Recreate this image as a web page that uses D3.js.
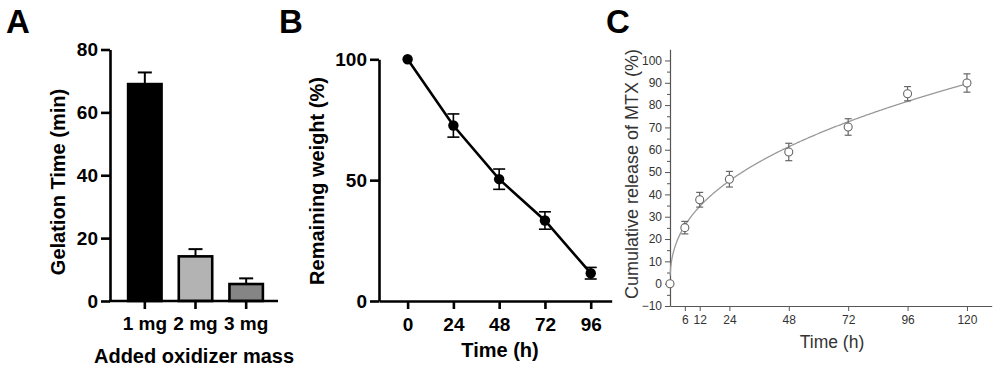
<!DOCTYPE html>
<html>
<head>
<meta charset="utf-8">
<script src="https://cdn.jsdelivr.net/npm/d3@7"></script>
<style>
  html, body { margin: 0; padding: 0; background: #fff; }
  svg { display: block; }
  .bold text { font-family: "Liberation Sans", Arial, sans-serif; font-weight: bold; }
</style>
</head>
<body>
<div id="area"></div>
<script>
// ---- data ----
// A: gelation time
const massLabels = ['1 mg', '2 mg', '3 mg'];
const gelTime = [69, 14.2, 5.4];
const gelErr = [3.7, 2.3, 1.8];
const barColors = ['#000000', '#b3b3b3', '#858585'];
const gelTicks = [0, 20, 40, 60, 80];

// B: degradation
const degTime = [0, 24, 48, 72, 96];
const degWeight = [100, 72.6, 50.4, 33.3, 11.5];
const degErr = [0, 4.8, 4.2, 3.6, 2.4];
const degTicksX = [0, 24, 48, 72, 96];
const degTicksY = [0, 50, 100];

// C: MTX release
const relTime = [0, 6, 12, 24, 48, 72, 96, 120];
const relValue = [0, 25.1, 37.6, 46.8, 59, 70.2, 85.1, 89.9];
const relErr = [0, 2.8, 3.3, 3.5, 3.9, 3.7, 3.2, 4.1];
const relTicksX = [6, 12, 24, 48, 72, 96, 120];
const relTicksY = [-10, 0, 10, 20, 30, 40, 50, 60, 70, 80, 90, 100];
// fitted release curve (Korsmeyer-Peppas, Q = k * t^n)
const fitK = 12.4, fitN = 0.413;

const width = 1000, height = 372;
const tickFont = 19, titleFont = 20;
const svg = d3.select('#area').append('svg')
    .attr('width', width).attr('height', height);

// panel letters
svg.append('g').attr('class', 'bold')
  .selectAll('text').data([['A', 6], ['B', 279], ['C', 606]])
  .join('text')
    .attr('x', d => d[1]).attr('y', 33)
    .attr('font-size', 33)
    .text(d => d[0]);

// ---------------- A ----------------
(function () {
    const g = svg.append('g').attr('class', 'bold');
    const x = d3.scaleBand().domain(massLabels)
        .range([119.5, 271.5]).paddingInner(0.34).paddingOuter(0.17);
    const y = d3.scaleLinear().domain([0, 80]).range([301, 49.5]);
    const axisX0 = 110, axisX1 = 278;

    // bars
    g.selectAll('rect.bar').data(gelTime).join('rect')
        .attr('x', (d, i) => x(massLabels[i]))
        .attr('y', d => y(d))
        .attr('width', x.bandwidth())
        .attr('height', d => y(0) - y(d))
        .attr('fill', (d, i) => barColors[i])
        .attr('stroke', '#000').attr('stroke-width', 2.6);

    // upper error bars
    const eb = g.selectAll('g.err').data(gelTime).join('g')
        .attr('transform', (d, i) => `translate(${x(massLabels[i]) + x.bandwidth() / 2},0)`);
    eb.append('line')
        .attr('y1', d => y(d)).attr('y2', (d, i) => y(d + gelErr[i]))
        .attr('stroke', '#000').attr('stroke-width', 2);
    eb.append('line')
        .attr('x1', -7).attr('x2', 7)
        .attr('y1', (d, i) => y(d + gelErr[i])).attr('y2', (d, i) => y(d + gelErr[i]))
        .attr('stroke', '#000').attr('stroke-width', 2);

    // y axis
    const ya = g.append('g').attr('transform', `translate(${axisX0},0)`)
        .call(d3.axisLeft(y).tickValues(gelTicks).tickSize(9).tickSizeOuter(0).tickPadding(3));
    ya.select('.domain').attr('stroke-width', 2.6);
    ya.selectAll('.tick line').attr('stroke-width', 2.6);
    ya.selectAll('text').attr('font-size', tickFont).attr('fill', '#000');

    // x axis
    const xa = g.append('g').attr('transform', `translate(0,${y(0)})`)
        .call(d3.axisBottom(x).tickSize(8).tickSizeOuter(0).tickPadding(8));
    xa.select('.domain').remove();
    xa.selectAll('.tick line').attr('stroke-width', 2.6);
    xa.selectAll('text').attr('font-size', tickFont).attr('fill', '#000');
    g.append('line').attr('x1', axisX0 - 1).attr('x2', axisX1)
        .attr('y1', y(0)).attr('y2', y(0))
        .attr('stroke', '#000').attr('stroke-width', 2.6);

    g.append('text').attr('x', 194).attr('y', 363).attr('text-anchor', 'middle')
        .attr('font-size', titleFont).text('Added oxidizer mass');
    g.append('text').attr('transform', 'translate(65,182) rotate(-90)')
        .attr('text-anchor', 'middle').attr('font-size', titleFont).text('Gelation Time (min)');
})();

// ---------------- B ----------------
(function () {
    const g = svg.append('g').attr('class', 'bold');
    const x = d3.scaleLinear().domain([-15, 107]).range([379, 611.7]);
    const y = d3.scaleLinear().domain([0, 100]).range([301, 59.3]);

    const ya = g.append('g').attr('transform', `translate(${x(-15)},0)`)
        .call(d3.axisLeft(y).tickValues(degTicksY).tickSize(9).tickSizeOuter(0).tickPadding(3));
    ya.select('.domain').attr('stroke-width', 2.6);
    ya.selectAll('.tick line').attr('stroke-width', 2.6);
    ya.selectAll('text').attr('font-size', tickFont).attr('fill', '#000');

    const xa = g.append('g').attr('transform', `translate(0,${y(0)})`)
        .call(d3.axisBottom(x).tickValues(degTicksX).tickSize(8).tickSizeOuter(0).tickPadding(9));
    xa.select('.domain').attr('stroke-width', 2.6);
    xa.selectAll('.tick line').attr('stroke-width', 2.6);
    xa.selectAll('text').attr('font-size', tickFont).attr('fill', '#000');

    const pts = degTime.map((t, i) => ({ t, v: degWeight[i], e: degErr[i] }));

    const eb = g.selectAll('g.err').data(pts.filter(d => d.e > 0)).join('g')
        .attr('transform', d => `translate(${x(d.t)},0)`)
        .attr('stroke', '#000').attr('stroke-width', 1.6);
    eb.append('line').attr('y1', d => y(d.v - d.e)).attr('y2', d => y(d.v + d.e));
    eb.append('line').attr('x1', -6).attr('x2', 6).attr('y1', d => y(d.v + d.e)).attr('y2', d => y(d.v + d.e));
    eb.append('line').attr('x1', -6).attr('x2', 6).attr('y1', d => y(d.v - d.e)).attr('y2', d => y(d.v - d.e));

    g.append('path').datum(pts)
        .attr('d', d3.line().x(d => x(d.t)).y(d => y(d.v)))
        .attr('fill', 'none').attr('stroke', '#000').attr('stroke-width', 2.6);

    g.selectAll('circle').data(pts).join('circle')
        .attr('cx', d => x(d.t)).attr('cy', d => y(d.v)).attr('r', 5.2)
        .attr('fill', '#000');

    g.append('text').attr('x', 500).attr('y', 357).attr('text-anchor', 'middle')
        .attr('font-size', titleFont).text('Time (h)');
    g.append('text').attr('transform', 'translate(324,181) rotate(-90)')
        .attr('text-anchor', 'middle').attr('font-size', titleFont).text('Remaining weight (%)');
})();

// ---------------- C ----------------
(function () {
    const grey = '#555';
    const g = svg.append('g')
        .style('font-family', '"Liberation Sans", Arial, sans-serif');
    const x = d3.scaleLinear().domain([0, 130]).range([670, 991.7]);
    const y = d3.scaleLinear().domain([-10, 105]).range([306, 49.3]);

    // minor ticks
    g.append('g').attr('transform', `translate(${x(0)},0)`)
        .call(d3.axisLeft(y).tickValues(d3.range(-5, 105, 10)).tickSize(3).tickFormat(''))
        .call(a => a.select('.domain').remove())
        .selectAll('line').attr('stroke', grey);

    const ya = g.append('g').attr('transform', `translate(${x(0)},0)`)
        .call(d3.axisLeft(y).tickValues(relTicksY).tickSize(5).tickSizeOuter(0).tickPadding(3));
    ya.select('.domain').attr('stroke', grey).attr('stroke-width', 1.2);
    ya.selectAll('.tick line').attr('stroke', grey);
    ya.selectAll('text').attr('font-size', 12).attr('fill', '#333');

    const xa = g.append('g').attr('transform', `translate(0,${y(-10)})`)
        .call(d3.axisBottom(x).tickValues(relTicksX).tickSize(5).tickSizeOuter(0).tickPadding(4));
    xa.select('.domain').attr('stroke', grey).attr('stroke-width', 1.2);
    xa.selectAll('.tick line').attr('stroke', grey);
    xa.selectAll('text').attr('font-size', 12).attr('fill', '#333');

    // fitted curve
    const ts = d3.range(0.05, 120.01, 0.25);
    g.append('path').datum(ts)
        .attr('d', d3.line().x(t => x(t)).y(t => y(fitK * Math.pow(t, fitN))))
        .attr('fill', 'none').attr('stroke', '#999').attr('stroke-width', 1.3);

    const pts = relTime.map((t, i) => ({ t, v: relValue[i], e: relErr[i] }));
    const eb = g.selectAll('g.err').data(pts.filter(d => d.e > 0)).join('g')
        .attr('transform', d => `translate(${x(d.t)},0)`)
        .attr('stroke', '#666').attr('stroke-width', 1.2);
    eb.append('line').attr('y1', d => y(d.v - d.e)).attr('y2', d => y(d.v + d.e));
    eb.append('line').attr('x1', -3.5).attr('x2', 3.5).attr('y1', d => y(d.v + d.e)).attr('y2', d => y(d.v + d.e));
    eb.append('line').attr('x1', -3.5).attr('x2', 3.5).attr('y1', d => y(d.v - d.e)).attr('y2', d => y(d.v - d.e));

    g.selectAll('circle').data(pts).join('circle')
        .attr('cx', d => x(d.t)).attr('cy', d => y(d.v)).attr('r', 4)
        .attr('fill', '#fff').attr('stroke', '#666').attr('stroke-width', 1.1);

    g.append('text').attr('x', 832).attr('y', 348).attr('text-anchor', 'middle')
        .attr('font-size', 17.5).attr('fill', '#333').text('Time (h)');
    g.append('text').attr('transform', 'translate(638,174) rotate(-90)')
        .attr('text-anchor', 'middle').attr('font-size', 18).attr('fill', '#333')
        .text('Cumulative release of MTX (%)');
})();
</script>
</body>
</html>
